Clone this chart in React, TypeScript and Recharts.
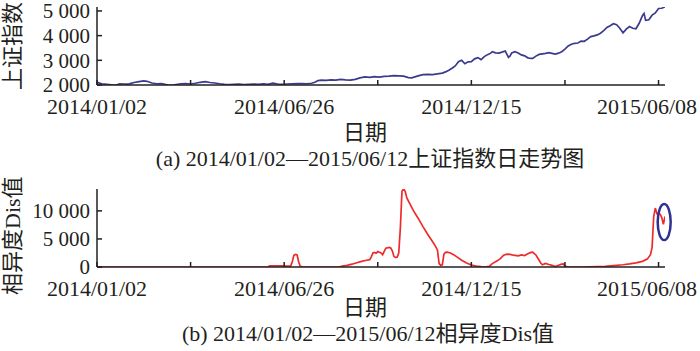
import React from 'react';
import { LineChart, Line, XAxis, YAxis, ReferenceDot } from 'recharts';

// 交易日序号：2014/01/02 = 0，2015/06/12 = 352
const shDays = [
  0, 3, 6, 9, 12, 14, 17, 19, 20, 23, 26, 29, 31, 34, 37, 40, 44, 46, 49, 52, 55, 58, 61, 64, 67, 70, 73, 76, 79, 82,
  85, 88, 91, 94, 97, 100, 103, 106, 109, 112, 115, 118, 121, 124, 127, 130, 133, 135, 137, 139, 142, 145, 148, 151,
  154, 157, 160, 163, 166, 169, 172, 175, 178, 181, 184, 187, 190, 193, 195, 197, 199, 202, 205, 208, 211, 214, 216,
  218, 220, 222, 224, 226, 228, 230, 232, 234, 236, 238, 240, 242, 244, 245, 247, 249, 251, 253, 255, 256, 257, 259,
  261, 263, 265, 267, 269, 270, 272, 274, 276, 278, 280, 282, 284, 286, 288, 290, 292, 294, 296, 298, 300, 302, 304,
  306, 308, 310, 312, 314, 316, 318, 320, 322, 324, 326, 328, 330, 332, 334, 336, 338, 339, 340, 342, 344, 346, 348,
  350, 352,
];
const shClose = [
  2109, 2045, 2030, 2010, 1995, 2050, 2040, 2033, 2045, 2100, 2140, 2170, 2150, 2080, 2050, 2060, 2000, 1990, 2020,
  2050, 2060, 2040, 2070, 2110, 2135, 2100, 2080, 2050, 2030, 2020, 2030, 2040, 2020, 2030, 2040, 2030, 2050, 2030,
  2075, 2040, 2025, 2040, 2050, 2060, 2055, 2050, 2070, 2110, 2180, 2200, 2190, 2210, 2200, 2230, 2210, 2200, 2230,
  2290, 2330, 2310, 2340, 2320, 2350, 2360, 2380, 2370, 2360, 2300, 2290, 2330, 2370, 2420, 2430, 2420, 2450, 2480,
  2530, 2600, 2680, 2770, 2940, 3000, 2860, 2940, 2950, 3060, 3110, 3030, 3150, 3230, 3290, 3350, 3300, 3290, 3330,
  3376, 3116, 3180, 3300, 3350, 3300, 3220, 3180, 3100, 3075, 3080, 3170, 3240, 3260, 3280, 3310, 3280, 3250, 3290,
  3350, 3450, 3580, 3650, 3690, 3700, 3780, 3770, 3860, 3960, 3990, 4030, 4100, 4200, 4330, 4400, 4480, 4440, 4300,
  4110, 4260, 4370, 4300, 4280, 4500, 4810, 4900, 4620, 4640, 4830, 4920, 5100, 5110, 5166,
];

const disDays = [
  0, 20, 40, 60, 80, 100, 106, 107, 115, 117, 120, 121, 122, 123, 124, 125, 126, 128, 140, 150, 152, 155, 158, 161,
  164, 167, 169, 170, 171, 172, 173, 174, 176, 177, 178, 179, 181, 182, 183, 184, 185, 186, 187, 188, 189, 190, 191,
  192, 194, 196, 199, 202, 205, 208, 210, 211, 212, 213, 214, 215, 216, 217, 219, 221, 223, 226, 229, 232, 235, 238,
  240, 243, 245, 248, 250, 252, 254, 256, 258, 261, 263, 265, 267, 269, 270, 271, 272, 274, 275, 276, 278, 280, 282,
  284, 286, 288, 289, 290, 292, 300, 310, 315, 320, 326, 330, 334, 338, 341, 343, 344, 345, 346, 347, 348, 349, 350,
  351, 352,
];
const disValues = [
  0, 0, 0, 0, 0, 0, 0, 200, 220, 150, 150, 900, 2100, 2250, 2150, 900, 100, 0, 0, 0, 150, 300, 500, 750, 1000, 1200,
  1300, 1800, 2500, 2600, 2450, 2750, 2500, 2200, 2800, 3350, 3500, 3400, 2900, 1900, 1700, 1750, 2500, 7000, 13500,
  13900, 13500, 12300, 11200, 10100, 8700, 7200, 5800, 4500, 3600, 3000, 600, 300, 400, 2300, 2600, 2650, 2500, 2200,
  1800, 1200, 700, 350, 150, 50, 0, 100, 600, 1100, 1500, 2100, 2300, 2250, 2100, 2000, 2150, 2050, 2350, 2600, 2650,
  2400, 2150, 1200, 700, 400, 650, 450, 300, 100, 300, 500, 550, 150, 0, 0, 50, 100, 250, 400, 550, 750, 1000, 1400,
  2200, 3500, 9000, 10500, 9500, 9600, 9400, 8800, 7600, 9000,
];

const tickDays = [0, 58, 116, 174, 232, 290, 348];
const tickLabels: Record<number, string> = {
  0: '2014/01/02',
  116: '2014/06/26',
  232: '2014/12/15',
  348: '2015/06/08',
};
const shTicks = [2000, 3000, 4000, 5000];
const disTicks = [0, 5000, 10000];
const lastDay = 352;
// 蓝圈标出的最后几日
const markDay = 351.5;
const markDis = 8000;

const font = "'Liberation Serif', 'Noto Sans CJK SC', serif";
const ink = '#231f20';

const shData = shDays.map((d, i) => ({ day: d, v: shClose[i] }));
const disData = disDays.map((d, i) => ({ day: d, v: disValues[i] }));

const fmt = (v: number) =>
  v >= 1000 ? `${Math.floor(v / 1000)} ${String(v % 1000).padStart(3, '0')}` : String(v);

const DateTick = (props: any) => {
  const { x, y, payload } = props;
  const label = tickLabels[payload.value];
  if (!label) return <g />;
  const cx = Math.min(x, 699 - 52);
  return (
    <text x={cx} y={y} dy="0.71em" textAnchor="middle" fontSize={22} fill={ink} fontFamily={font}>
      {label}
    </text>
  );
};

const axisStyle = { stroke: ink, strokeWidth: 1.5 };

function Panel({ data, color, domain, yTicks, marginTop, children }: any) {
  return (
    <LineChart width={700} height={120} data={data} margin={{ top: marginTop, right: 35, left: 0, bottom: 0 }}>
      <XAxis
        dataKey="day"
        type="number"
        domain={[0, lastDay]}
        ticks={tickDays}
        interval={0}
        tick={DateTick}
        tickSize={-5}
        tickMargin={18}
        height={120 - marginTop - 78}
        axisLine={axisStyle}
        tickLine={axisStyle}
        allowDataOverflow
      />
      <XAxis
        xAxisId="frame"
        orientation="top"
        dataKey="day"
        type="number"
        domain={[0, lastDay]}
        height={0}
        tick={false}
        tickLine={false}
        axisLine={axisStyle}
      />
      <YAxis
        type="number"
        domain={domain}
        ticks={yTicks}
        interval={0}
        tickFormatter={fmt}
        width={97}
        tickSize={-5}
        tickMargin={12}
        tick={{ fontSize: 21, fill: ink, fontFamily: font }}
        axisLine={axisStyle}
        tickLine={axisStyle}
        allowDataOverflow
      />
      <YAxis
        yAxisId="frame"
        orientation="right"
        type="number"
        domain={domain}
        width={0}
        tick={false}
        tickLine={false}
        axisLine={axisStyle}
      />
      <Line type="linear" dataKey="v" stroke={color} strokeWidth={1.7} dot={false} isAnimationActive={false} />
      {children}
    </LineChart>
  );
}

const textStyle: React.CSSProperties = {
  position: 'absolute',
  fontFamily: font,
  fontSize: 22,
  lineHeight: '22px',
  color: ink,
  whiteSpace: 'nowrap',
  textAlign: 'center',
};

const sideLabel = (len: number, cx: number, cy: number): React.CSSProperties => ({
  ...textStyle,
  left: cx - len / 2,
  top: cy - 11,
  width: len,
  transform: 'rotate(-90deg)',
});

export default function App() {
  return (
    <div style={{ position: 'absolute', left: 0, top: 0, width: 700, height: 351, background: '#fff', overflow: 'hidden' }}>
      <div style={{ position: 'absolute', left: 0, top: 0 }}>
        <Panel data={shData} color="#3a3a8e" domain={[2000, 5160]} yTicks={shTicks} marginTop={7} />
      </div>
      <div style={sideLabel(88, 13, 46)}>上证指数</div>
      <div style={{ ...textStyle, left: 315, width: 100, top: 122 }}>日期</div>
      <div style={{ ...textStyle, left: 150, width: 440, top: 148 }}>(a) 2014/01/02—2015/06/12上证指数日走势图</div>

      <div style={{ position: 'absolute', left: 0, top: 180 }}>
        <Panel data={disData} color="#ee2b2b" domain={[0, 13900]} yTicks={disTicks} marginTop={9}>
          <ReferenceDot
            x={markDay}
            y={markDis}
            ifOverflow="visible"
            shape={(p: any) => (
              <ellipse cx={p.cx} cy={p.cy} rx={6.5} ry={18} fill="none" stroke="#2e3192" strokeWidth={2.5} />
            )}
          />
        </Panel>
      </div>
      <div style={sideLabel(118, 13, 236)}>相异度Dis值</div>
      <div style={{ ...textStyle, left: 315, width: 100, top: 297 }}>日期</div>
      <div style={{ ...textStyle, left: 178, width: 380, top: 323 }}>(b) 2014/01/02—2015/06/12相异度Dis值</div>
    </div>
  );
}
